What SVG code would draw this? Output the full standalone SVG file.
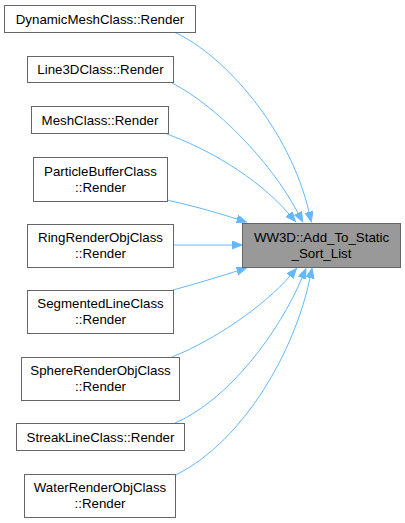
<svg xmlns="http://www.w3.org/2000/svg" width="405" height="523" viewBox="0 0 405 523">
<style>
.n rect{fill:#ffffff;stroke:#666666;stroke-width:1}
.t rect{fill:#999999;stroke:#666666;stroke-width:1}
text{font-family:"Liberation Sans",Arial,sans-serif;font-size:13.3px;fill:#000000;text-anchor:middle}
.e path{fill:none;stroke:#63b8ff;stroke-width:1;marker-end:url(#ah)}
</style>
<defs>
<marker id="ah" markerUnits="userSpaceOnUse" markerWidth="12" markerHeight="10" refX="0" refY="4" orient="auto">
<path d="M0,0 L10,4 L0,8 z" fill="#63b8ff" stroke="#63b8ff" stroke-width="1"/>
</marker>
</defs>
<g id="edges" class="e">
<path d="M174,32 C225,55 290,130 309,212"/>
<path d="M172,83 C215,105 270,160 298,213"/>
<path d="M167,134 C205,148 255,175 289,214"/>
<path d="M167,200 C190,205 215,212 237,219"/>
<path d="M173,245 L232,245"/>
<path d="M173,290 C195,284 215,278 237,271"/>
<path d="M172,357 C215,340 265,305 290,276"/>
<path d="M173,424 C230,400 280,330 302,278"/>
<path d="M176,475 C245,440 295,350 310,278"/>
</g>
<g id="target" class="t"><rect x="242.5" y="223.5" width="158" height="44"/><text x="321.5" y="241.5">WW3D::Add_To_Static</text><text x="321.5" y="257.5">_Sort_List</text></g>
<g id="n1" class="n"><rect x="4.5" y="5.5" width="191" height="27"/><text x="100" y="23.5">DynamicMeshClass::Render</text></g>
<g id="n2" class="n"><rect x="27.5" y="56.5" width="146" height="26"/><text x="100.5" y="74">Line3DClass::Render</text></g>
<g id="n3" class="n"><rect x="31.5" y="106.5" width="137" height="27"/><text x="100" y="124.5">MeshClass::Render</text></g>
<g id="n4" class="n"><rect x="33.5" y="157.5" width="134" height="44"/><text x="100.5" y="175.5">ParticleBufferClass</text><text x="100.5" y="191.5">::Render</text></g>
<g id="n5" class="n"><rect x="27.5" y="224.5" width="146" height="43"/><text x="100.5" y="242">RingRenderObjClass</text><text x="100.5" y="258">::Render</text></g>
<g id="n6" class="n"><rect x="27.5" y="290.5" width="146" height="43"/><text x="100.5" y="308">SegmentedLineClass</text><text x="100.5" y="324">::Render</text></g>
<g id="n7" class="n"><rect x="21.5" y="357.5" width="158" height="43"/><text x="100.5" y="375">SphereRenderObjClass</text><text x="100.5" y="391">::Render</text></g>
<g id="n8" class="n"><rect x="16.5" y="423.5" width="168" height="27"/><text x="100.5" y="441.5">StreakLineClass::Render</text></g>
<g id="n9" class="n"><rect x="24.5" y="474.5" width="151" height="43"/><text x="100" y="492">WaterRenderObjClass</text><text x="100" y="508">::Render</text></g>
</svg>
